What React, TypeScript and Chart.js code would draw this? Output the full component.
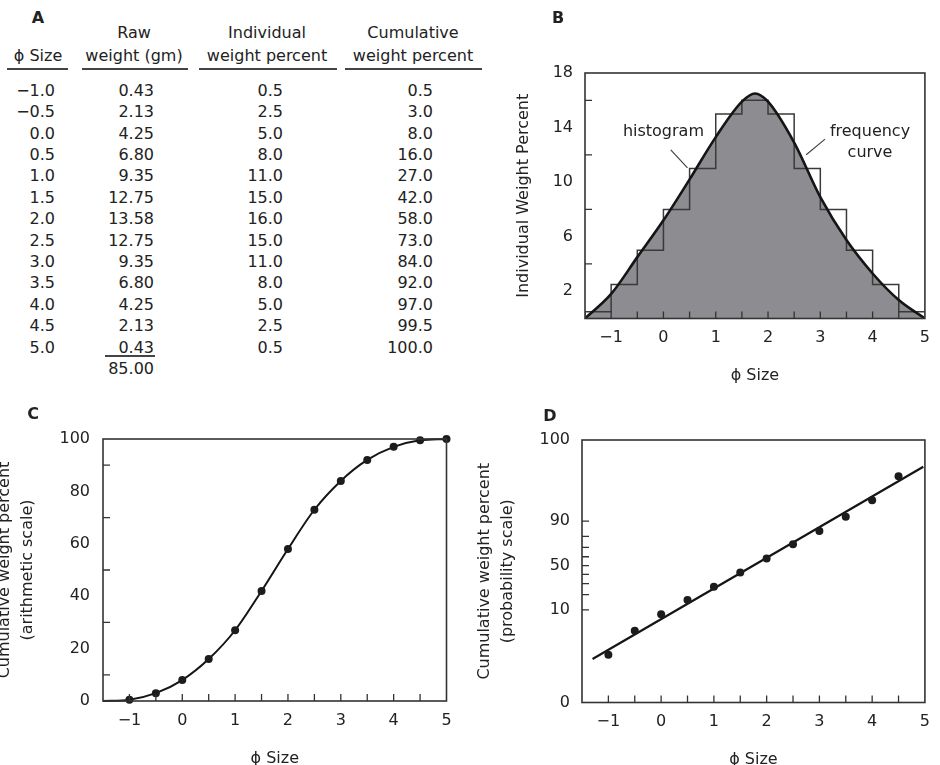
import React, { useEffect, useRef } from 'react';
import { Chart, registerables } from 'chart.js';

Chart.register(...registerables);

const FONT = '"DejaVu Sans", "Liberation Sans", Arial, sans-serif';
const INK = '#222222';

// ---------------- data ----------------
const phiSizes = [-1.0, -0.5, 0.0, 0.5, 1.0, 1.5, 2.0, 2.5, 3.0, 3.5, 4.0, 4.5, 5.0];
const rawWeightsGm = [0.43, 2.13, 4.25, 6.8, 9.35, 12.75, 13.58, 12.75, 9.35, 6.8, 4.25, 2.13, 0.43];
const rawWeightTotalGm = 85.0;
const individualWeightPct = [0.5, 2.5, 5.0, 8.0, 11.0, 15.0, 16.0, 15.0, 11.0, 8.0, 5.0, 2.5, 0.5];
const cumulativeWeightPct = [0.5, 3.0, 8.0, 16.0, 27.0, 42.0, 58.0, 73.0, 84.0, 92.0, 97.0, 99.5, 100.0];

const tableHeaderLine1 = ['', 'Raw', 'Individual', 'Cumulative'];
const tableHeaderLine2 = ['\u03d5 Size', 'weight (gm)', 'weight percent', 'weight percent'];

// frequency curve (panel B)
const freqCurvePhi = [-1.5, -1.0, -0.5, 0.0, 0.5, 1.0, 1.5, 1.75, 2.0, 2.5, 3.0, 3.5, 4.0, 4.5, 5.0];
const freqCurvePct = [0, 1.8, 4.5, 7.2, 10.2, 13.3, 15.9, 16.5, 15.9, 12.9, 8.9, 5.75, 3.3, 1.35, 0];
const histogramStartPhi = -1.5;

// cumulative curve start (panel C)
const cumCurveStartPhi = -1.5;
const cumCurveStartPct = 0;

// fitted straight line on probability paper (panel D)
const fitLinePhi = [-1.3, 4.97];
const fitLinePct = [0.35, 99.78];

// ticks
const phiTickLabels = [-1, 0, 1, 2, 3, 4, 5];
const phiMinorTicks = [-1, -0.5, 0, 0.5, 1, 1.5, 2, 2.5, 3, 3.5, 4, 4.5];
const bYTickLabels = [2, 6, 10, 14, 18];
const bYMinorTicks = [4, 8, 12, 16];
const cYTickLabels = [0, 20, 40, 60, 80, 100];
const cYMinorTicks = [10, 30, 50, 70, 90];
const dYTickLabels = [0, 10, 50, 90, 100];
const dYMinorTicks = [10, 20, 30, 40, 50, 60, 70, 80, 90];
const dProbitMin = -3.95;
const dProbitMax = 3.62;

// ---------------- helpers ----------------
function probit(p: number): number {
  const a = [-3.969683028665376e1, 2.209460984245205e2, -2.759285104469687e2, 1.38357751867269e2, -3.066479806614716e1, 2.506628277459239];
  const b = [-5.447609879822406e1, 1.615858368580409e2, -1.556989798598866e2, 6.680131188771972e1, -1.328068155288572e1];
  const c = [-7.784894002430293e-3, -3.223964580411365e-1, -2.400758277161838, -2.549671010372549, 4.374664141464968, 2.938163982698783];
  const d = [7.784695709041462e-3, 3.224671290700398e-1, 2.445134137142996, 3.754408661907416];
  const pl = 0.02425;
  if (p < pl) {
    const q = Math.sqrt(-2 * Math.log(p));
    return (((((c[0] * q + c[1]) * q + c[2]) * q + c[3]) * q + c[4]) * q + c[5]) / ((((d[0] * q + d[1]) * q + d[2]) * q + d[3]) * q + 1);
  }
  if (p <= 1 - pl) {
    const q = p - 0.5;
    const r = q * q;
    return ((((((a[0] * r + a[1]) * r + a[2]) * r + a[3]) * r + a[4]) * r + a[5]) * q) / (((((b[0] * r + b[1]) * r + b[2]) * r + b[3]) * r + b[4]) * r + 1);
  }
  const q = Math.sqrt(-2 * Math.log(1 - p));
  return -(((((c[0] * q + c[1]) * q + c[2]) * q + c[3]) * q + c[4]) * q + c[5]) / ((((d[0] * q + d[1]) * q + d[2]) * q + d[3]) * q + 1);
}

function pctToProbitAxis(pct: number): number {
  if (pct <= 0) return dProbitMin;
  if (pct >= 100) return dProbitMax;
  return probit(pct / 100);
}

const fmtSigned = (v: number, digits: number) => (v < 0 ? '\u2212' : '') + Math.abs(v).toFixed(digits);
const fmtPhiTick = (v: number) => (v < 0 ? '\u2212' + Math.abs(v) : String(v));

function framePlugin(xTicks: number[], yTicks: number[]) {
  return {
    id: 'frameTicks',
    afterDatasetsDraw(chart: any) {
      const { ctx, chartArea: a } = chart;
      ctx.save();
      ctx.strokeStyle = '#333';
      ctx.lineWidth = 1.6;
      ctx.strokeRect(a.left, a.top, a.right - a.left, a.bottom - a.top);
      ctx.lineWidth = 1.3;
      ctx.beginPath();
      xTicks.forEach((v) => {
        const px = chart.scales.x.getPixelForValue(v);
        ctx.moveTo(px, a.bottom);
        ctx.lineTo(px, a.bottom - 7);
      });
      yTicks.forEach((v) => {
        const py = chart.scales.y.getPixelForValue(v);
        ctx.moveTo(a.left, py);
        ctx.lineTo(a.left + 7, py);
      });
      ctx.stroke();
      ctx.restore();
    },
  };
}

function notesPlugin(texts: { text: string; x: number; y: number }[], lines: number[][]) {
  return {
    id: 'notes',
    afterDatasetsDraw(chart: any) {
      const { ctx } = chart;
      const sx = chart.scales.x;
      const sy = chart.scales.y;
      ctx.save();
      ctx.font = '16px ' + FONT;
      ctx.textAlign = 'center';
      ctx.textBaseline = 'middle';
      texts.forEach((t) => {
        const px = sx.getPixelForValue(t.x);
        const py = sy.getPixelForValue(t.y);
        ctx.fillStyle = '#ffffff';
        const w = ctx.measureText(t.text).width;
        ctx.fillRect(px - w / 2 - 2, py - 9, w + 4, 18);
        ctx.fillStyle = INK;
        ctx.fillText(t.text, px, py);
      });
      ctx.strokeStyle = '#444';
      ctx.lineWidth = 1.2;
      ctx.beginPath();
      lines.forEach((l) => {
        ctx.moveTo(sx.getPixelForValue(l[0]), sy.getPixelForValue(l[1]));
        ctx.lineTo(sx.getPixelForValue(l[2]), sy.getPixelForValue(l[3]));
      });
      ctx.stroke();
      ctx.restore();
    },
  };
}

function phiAxis(xH: number) {
  return {
    type: 'linear',
    min: -1.5,
    max: 5,
    afterBuildTicks: (s: any) => {
      s.ticks = phiTickLabels.map((v) => ({ value: v }));
    },
    afterFit: (s: any) => {
      s.height = xH;
    },
    ticks: { callback: (v: number) => fmtPhiTick(v), padding: 10, color: INK, font: { size: 16 }, autoSkip: false, maxRotation: 0 },
    grid: { display: false, drawTicks: false },
    border: { display: false },
    title: { display: true, text: '\u03d5 Size', color: INK, font: { size: 16, lineHeight: 1.2 }, padding: 0 },
  };
}

function baseOptions(padding: any) {
  return {
    responsive: false,
    animation: false,
    devicePixelRatio: 1,
    layout: { padding, autoPadding: false },
    plugins: { legend: { display: false }, tooltip: { enabled: false }, filler: { drawTime: 'beforeDatasetsDraw' } },
    events: [],
  };
}

// ---------------- chart configs ----------------
function configB() {
  const curve = freqCurvePhi.map((x, i) => ({ x, y: freqCurvePct[i] }));
  const hist = [{ x: histogramStartPhi, y: 0 }, ...phiSizes.map((x, i) => ({ x, y: individualWeightPct[i] }))];
  return {
    type: 'line',
    data: {
      datasets: [
        { data: curve, borderColor: '#151515', borderWidth: 2.6, pointRadius: 0, fill: 'origin', backgroundColor: '#8c8c91', cubicInterpolationMode: 'monotone' },
        { data: hist, stepped: 'after', borderColor: '#3a3a3a', borderWidth: 1.5, pointRadius: 0, fill: false },
      ],
    },
    options: {
      ...baseOptions({ left: 0, top: 73, right: 7, bottom: 4.5 }),
      scales: {
        x: phiAxis(67),
        y: {
          type: 'linear',
          min: 0,
          max: 18,
          afterBuildTicks: (s: any) => {
            s.ticks = bYTickLabels.map((v) => ({ value: v }));
          },
          afterFit: (s: any) => {
            s.width = 71;
          },
          ticks: { callback: (v: number) => String(v), padding: 12, color: INK, font: { size: 16 } },
          grid: { display: false, drawTicks: false },
          border: { display: false },
          title: { display: true, text: 'Individual Weight Percent', color: INK, font: { size: 16, lineHeight: 1.2 }, padding: 0 },
        },
      },
    },
    plugins: [
      framePlugin(phiMinorTicks, bYMinorTicks),
      notesPlugin(
        [
          { text: 'histogram', x: 0.0, y: 13.7 },
          { text: 'frequency', x: 3.95, y: 13.7 },
          { text: 'curve', x: 3.95, y: 12.15 },
        ],
        [
          [0.14, 12.37, 0.46, 11.05],
          [3.09, 13.15, 2.73, 12.0],
        ],
      ),
    ],
  };
}

function configC() {
  const pts = phiSizes.map((x, i) => ({ x, y: cumulativeWeightPct[i] }));
  return {
    type: 'line',
    data: {
      datasets: [
        { data: pts, showLine: false, pointRadius: 4, pointBackgroundColor: '#1c1c1c', pointBorderWidth: 0, clip: false },
        { data: [{ x: cumCurveStartPhi, y: cumCurveStartPct }, ...pts], borderColor: '#151515', borderWidth: 2, pointRadius: 0, fill: false, cubicInterpolationMode: 'monotone', clip: false },
      ],
    },
    options: {
      ...baseOptions({ left: 0, top: 59, right: 17.5, bottom: 2 }),
      scales: {
        x: phiAxis(67),
        y: {
          type: 'linear',
          min: 0,
          max: 100,
          afterBuildTicks: (s: any) => {
            s.ticks = cYTickLabels.map((v) => ({ value: v }));
          },
          afterFit: (s: any) => {
            s.width = 109;
          },
          ticks: { callback: (v: number) => String(v), padding: 13, color: INK, font: { size: 16 } },
          grid: { display: false, drawTicks: false },
          border: { display: false },
          title: { display: true, text: ['Cumulative weight percent', '(arithmetic scale)'], color: INK, font: { size: 16, lineHeight: 1.4 }, padding: 0 },
        },
      },
    },
    plugins: [framePlugin(phiMinorTicks, cYMinorTicks)],
  };
}

function configD() {
  const pts = phiSizes
    .map((x, i) => ({ x, pct: cumulativeWeightPct[i] }))
    .filter((p) => p.pct < 100)
    .map((p) => ({ x: p.x, y: probit(p.pct / 100) }));
  const line = fitLinePhi.map((x, i) => ({ x, y: probit(fitLinePct[i] / 100) }));
  return {
    type: 'line',
    data: {
      datasets: [
        { data: pts, showLine: false, pointRadius: 4, pointBackgroundColor: '#1c1c1c', pointBorderWidth: 0, clip: false },
        { data: line, borderColor: '#151515', borderWidth: 2.2, pointRadius: 0, fill: false, tension: 0 },
      ],
    },
    options: {
      ...baseOptions({ left: 0, top: 60, right: 10, bottom: 0.5 }),
      scales: {
        x: phiAxis(67),
        y: {
          type: 'linear',
          min: dProbitMin,
          max: dProbitMax,
          afterBuildTicks: (s: any) => {
            s.ticks = dYTickLabels.map((p) => ({ value: pctToProbitAxis(p) }));
          },
          afterFit: (s: any) => {
            s.width = 108;
          },
          ticks: { callback: (_v: number, i: number) => String(dYTickLabels[i]), padding: 12, color: INK, font: { size: 16 } },
          grid: { display: false, drawTicks: false },
          border: { display: false },
          title: { display: true, text: ['Cumulative weight percent', '(probability scale)'], color: INK, font: { size: 16, lineHeight: 1.4 }, padding: 0 },
        },
      },
    },
    plugins: [framePlugin(phiMinorTicks, dYMinorTicks.map((p) => pctToProbitAxis(p)))],
  };
}

// ---------------- components ----------------
function ChartCanvas(props: { make: () => any; left: number; top: number; width: number; height: number }) {
  const ref = useRef<HTMLCanvasElement | null>(null);
  useEffect(() => {
    Chart.defaults.font.family = FONT;
    Chart.defaults.font.size = 16;
    Chart.defaults.color = INK;
    const chart = new Chart(ref.current as HTMLCanvasElement, props.make());
    return () => chart.destroy();
  }, []);
  return (
    <canvas
      ref={ref}
      width={props.width}
      height={props.height}
      style={{ position: 'absolute', left: props.left, top: props.top, width: props.width, height: props.height }}
    />
  );
}

function Txt(props: { x: number; y: number; align?: 'center' | 'right'; bold?: boolean; children: React.ReactNode }) {
  const tx = props.align === 'right' ? '-100%' : '-50%';
  return (
    <div
      style={{
        position: 'absolute',
        left: props.x,
        top: props.y,
        transform: `translate(${tx}, -50%)`,
        whiteSpace: 'nowrap',
        lineHeight: 1,
        fontFamily: FONT,
        fontSize: 16,
        fontWeight: props.bold ? 'bold' : 'normal',
        color: INK,
      }}
    >
      {props.children}
    </div>
  );
}

function Hline(props: { x1: number; x2: number; y: number }) {
  return <div style={{ position: 'absolute', left: props.x1, top: props.y - 1, width: props.x2 - props.x1, height: 2, background: '#444' }} />;
}

function TablePanel() {
  const headerCenters = [38, 134, 267, 413];
  const rightEdges = [55, 154, 283, 433];
  const underlines = [
    [7, 68],
    [82, 188],
    [199, 337],
    [345, 482],
  ];
  const rowY0 = 90.7;
  const rowH = 21.4;
  const items: React.ReactNode[] = [];
  tableHeaderLine1.forEach((t, i) => items.push(<Txt key={'h1' + i} x={headerCenters[i]} y={33}>{t}</Txt>));
  tableHeaderLine2.forEach((t, i) => items.push(<Txt key={'h2' + i} x={headerCenters[i]} y={56}>{t}</Txt>));
  underlines.forEach((u, i) => items.push(<Hline key={'u' + i} x1={u[0]} x2={u[1]} y={69} />));
  phiSizes.forEach((phi, r) => {
    const y = rowY0 + rowH * r;
    items.push(<Txt key={'c0' + r} x={rightEdges[0]} y={y} align="right">{fmtSigned(phi, 1)}</Txt>);
    items.push(<Txt key={'c1' + r} x={rightEdges[1]} y={y} align="right">{rawWeightsGm[r].toFixed(2)}</Txt>);
    items.push(<Txt key={'c2' + r} x={rightEdges[2]} y={y} align="right">{individualWeightPct[r].toFixed(1)}</Txt>);
    items.push(<Txt key={'c3' + r} x={rightEdges[3]} y={y} align="right">{cumulativeWeightPct[r].toFixed(1)}</Txt>);
  });
  const totalY = rowY0 + rowH * phiSizes.length;
  items.push(<Hline key="sum" x1={105} x2={155} y={356} />);
  items.push(<Txt key="total" x={rightEdges[1]} y={totalY} align="right">{rawWeightTotalGm.toFixed(2)}</Txt>);
  return <>{items}</>;
}

export default function App() {
  return (
    <div style={{ position: 'absolute', left: 0, top: 0, width: 940, height: 765, overflow: 'hidden', background: '#ffffff' }}>
      <TablePanel />
      <ChartCanvas make={configB} left={514} top={0} width={426} height={390} />
      <ChartCanvas make={configC} left={-6} top={380} width={470} height={390} />
      <ChartCanvas make={configD} left={474} top={380} width={466} height={390} />
      <Txt x={38} y={18} bold>A</Txt>
      <Txt x={558} y={18} bold>B</Txt>
      <Txt x={33} y={414} bold>C</Txt>
      <Txt x={550} y={416} bold>D</Txt>
    </div>
  );
}
